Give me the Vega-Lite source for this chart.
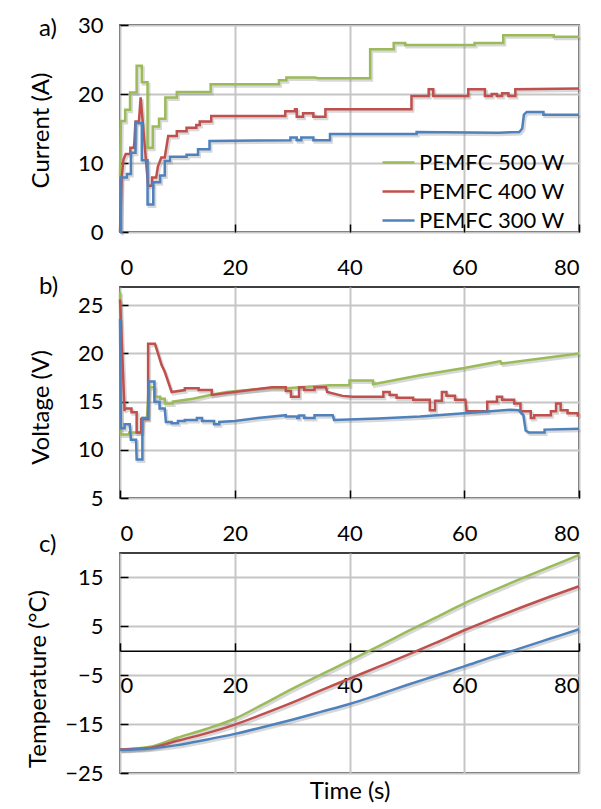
{
  "$schema": "https://vega.github.io/schema/vega-lite/v6.json",
  "padding": {"left": 25, "top": 13, "right": 0, "bottom": 0},
  "background": "white",
  "spacing": 55,
  "bounds": "flush",
  "config": {
    "font": "Lato",
    "view": {"stroke": "#000000", "strokeWidth": 1.5},
    "axis": {
      "labelFont": "Lato", "labelFontSize": 22, "labelColor": "#000000",
      "titleFont": "Lato", "titleFontSize": 24, "titleFontWeight": "normal", "titleColor": "#000000",
      "gridColor": "#c6c6c6", "gridWidth": 2, "domain": false,
      "tickColor": "#000000", "tickSize": -8, "tickWidth": 1.5, "labelPadding": 25
    },
    "axisX": {"labelPadding": 33},
    "title": {"font": "Lato", "fontSize": 24, "fontWeight": "normal", "color": "#000000", "anchor": "start", "frame": "group", "align": "center", "dx": -81, "offset": 0, "baseline": "alphabetic"}
  },
  "datasets": {
    "current": [
      {"s":"500","t":0,"v":8},{"s":"500","t":0.15,"v":16.1},{"s":"500","t":0.9,"v":16.1},{"s":"500","t":0.9,"v":17.7},{"s":"500","t":1.75,"v":17.7},{"s":"500","t":1.75,"v":20.2},{"s":"500","t":2.9,"v":20.2},{"s":"500","t":2.9,"v":24.1},{"s":"500","t":3.8,"v":24.1},{"s":"500","t":3.8,"v":21.7},{"s":"500","t":4.8,"v":21.7},{"s":"500","t":4.8,"v":12.2},{"s":"500","t":5.7,"v":12.2},{"s":"500","t":5.7,"v":15.3},{"s":"500","t":6.8,"v":15.3},{"s":"500","t":6.8,"v":16.4},{"s":"500","t":7.9,"v":16.4},{"s":"500","t":7.9,"v":19.5},{"s":"500","t":9.9,"v":19.5},{"s":"500","t":9.9,"v":20.3},{"s":"500","t":15.8,"v":20.3},{"s":"500","t":15.8,"v":21.4},{"s":"500","t":27.7,"v":21.4},{"s":"500","t":27.7,"v":22.0},{"s":"500","t":29,"v":22.0},{"s":"500","t":29,"v":22.4},{"s":"500","t":34,"v":22.4},{"s":"500","t":34.5,"v":22.3},{"s":"500","t":43.6,"v":22.3},{"s":"500","t":43.6,"v":26.5},{"s":"500","t":47.7,"v":26.5},{"s":"500","t":47.7,"v":27.4},{"s":"500","t":49.7,"v":27.4},{"s":"500","t":49.7,"v":27.1},{"s":"500","t":61.8,"v":27.1},{"s":"500","t":61.8,"v":27.4},{"s":"500","t":66.8,"v":27.4},{"s":"500","t":66.8,"v":28.5},{"s":"500","t":75.6,"v":28.5},{"s":"500","t":75.6,"v":28.3},{"s":"500","t":80,"v":28.3},
      {"s":"400","t":0,"v":0},{"s":"400","t":0.15,"v":4},{"s":"400","t":0.3,"v":8},{"s":"400","t":0.6,"v":10.5},{"s":"400","t":1.0,"v":11.3},{"s":"400","t":1.8,"v":11.3},{"s":"400","t":1.8,"v":12.2},{"s":"400","t":2.4,"v":12.2},{"s":"400","t":2.5,"v":13},{"s":"400","t":2.7,"v":16.0},{"s":"400","t":3.3,"v":16.0},{"s":"400","t":3.6,"v":19.5},{"s":"400","t":4.9,"v":6.7},{"s":"400","t":5.6,"v":6.7},{"s":"400","t":5.6,"v":7.9},{"s":"400","t":6.3,"v":7.9},{"s":"400","t":6.6,"v":9.5},{"s":"400","t":7.2,"v":10.8},{"s":"400","t":7.8,"v":10.8},{"s":"400","t":8.4,"v":13.9},{"s":"400","t":9.9,"v":13.9},{"s":"400","t":9.9,"v":14.6},{"s":"400","t":11.6,"v":14.6},{"s":"400","t":11.6,"v":15.1},{"s":"400","t":13.3,"v":15.1},{"s":"400","t":13.3,"v":15.5},{"s":"400","t":13.9,"v":15.5},{"s":"400","t":13.9,"v":16.0},{"s":"400","t":15.9,"v":16.0},{"s":"400","t":15.9,"v":16.8},{"s":"400","t":28.8,"v":16.8},{"s":"400","t":28.8,"v":17.5},{"s":"400","t":30.5,"v":17.5},{"s":"400","t":30.5,"v":17.8},{"s":"400","t":30.8,"v":17.8},{"s":"400","t":30.8,"v":16.7},{"s":"400","t":31.9,"v":16.7},{"s":"400","t":31.9,"v":17.2},{"s":"400","t":33.7,"v":17.2},{"s":"400","t":33.7,"v":16.7},{"s":"400","t":35.8,"v":16.7},{"s":"400","t":35.8,"v":17.8},{"s":"400","t":50.8,"v":17.8},{"s":"400","t":50.8,"v":19.7},{"s":"400","t":53.8,"v":19.7},{"s":"400","t":53.8,"v":20.7},{"s":"400","t":54.6,"v":20.7},{"s":"400","t":54.6,"v":19.7},{"s":"400","t":60.7,"v":19.7},{"s":"400","t":60.7,"v":20.7},{"s":"400","t":63.6,"v":20.7},{"s":"400","t":63.6,"v":19.7},{"s":"400","t":64.8,"v":19.7},{"s":"400","t":64.8,"v":20.0},{"s":"400","t":65.7,"v":20.0},{"s":"400","t":65.7,"v":19.7},{"s":"400","t":66.6,"v":19.7},{"s":"400","t":66.6,"v":20.1},{"s":"400","t":67.7,"v":20.1},{"s":"400","t":67.7,"v":19.7},{"s":"400","t":68.9,"v":19.7},{"s":"400","t":68.9,"v":20.7},{"s":"400","t":80,"v":20.8},
      {"s":"300","t":0,"v":0},{"s":"300","t":0.17,"v":0},{"s":"300","t":0.17,"v":7.9},{"s":"300","t":1.2,"v":7.9},{"s":"300","t":1.2,"v":8.4},{"s":"300","t":1.9,"v":8.4},{"s":"300","t":1.9,"v":11.5},{"s":"300","t":2.7,"v":11.5},{"s":"300","t":2.7,"v":15.8},{"s":"300","t":3.8,"v":15.8},{"s":"300","t":3.8,"v":10.4},{"s":"300","t":4.8,"v":10.4},{"s":"300","t":4.8,"v":4.0},{"s":"300","t":5.8,"v":4.0},{"s":"300","t":5.8,"v":7.2},{"s":"300","t":7.0,"v":7.2},{"s":"300","t":7.0,"v":8.2},{"s":"300","t":7.8,"v":8.2},{"s":"300","t":7.8,"v":10.3},{"s":"300","t":8.7,"v":10.3},{"s":"300","t":8.7,"v":10.9},{"s":"300","t":11.6,"v":10.9},{"s":"300","t":11.6,"v":11.2},{"s":"300","t":13.6,"v":11.2},{"s":"300","t":13.6,"v":12.0},{"s":"300","t":15.6,"v":12.0},{"s":"300","t":15.6,"v":13.2},{"s":"300","t":29.7,"v":13.3},{"s":"300","t":29.7,"v":13.7},{"s":"300","t":30.8,"v":13.7},{"s":"300","t":30.8,"v":13.3},{"s":"300","t":31.6,"v":13.3},{"s":"300","t":31.6,"v":13.7},{"s":"300","t":33.7,"v":13.7},{"s":"300","t":33.7,"v":13.3},{"s":"300","t":36.6,"v":13.3},{"s":"300","t":36.6,"v":14.2},{"s":"300","t":51.7,"v":14.2},{"s":"300","t":51.7,"v":14.5},{"s":"300","t":66,"v":14.4},{"s":"300","t":69.6,"v":14.5},{"s":"300","t":70.1,"v":15.0},{"s":"300","t":70.4,"v":17.0},{"s":"300","t":70.9,"v":17.4},{"s":"300","t":73.8,"v":17.4},{"s":"300","t":73.8,"v":17.0},{"s":"300","t":80,"v":17.0}
    ],
    "voltage": [
      {"s":"500","t":0,"v":26.4},{"s":"500","t":0.15,"v":11.6},{"s":"500","t":1.6,"v":11.6},{"s":"500","t":1.6,"v":11.8},{"s":"500","t":3.7,"v":11.8},{"s":"500","t":4.0,"v":13.3},{"s":"500","t":4.7,"v":13.3},{"s":"500","t":5.0,"v":16.5},{"s":"500","t":6.0,"v":16.5},{"s":"500","t":6.0,"v":15.5},{"s":"500","t":7.0,"v":15.5},{"s":"500","t":7.0,"v":15.3},{"s":"500","t":7.8,"v":15.3},{"s":"500","t":7.8,"v":14.8},{"s":"500","t":9.2,"v":14.8},{"s":"500","t":9.2,"v":15.0},{"s":"500","t":12.7,"v":15.3},{"s":"500","t":15.7,"v":15.7},{"s":"500","t":18.6,"v":16.0},{"s":"500","t":26,"v":16.4},{"s":"500","t":28.9,"v":16.4},{"s":"500","t":36.5,"v":16.7},{"s":"500","t":40,"v":16.7},{"s":"500","t":40,"v":17.2},{"s":"500","t":44.1,"v":17.2},{"s":"500","t":44.1,"v":16.8},{"s":"500","t":52.3,"v":17.75},{"s":"500","t":60,"v":18.5},{"s":"500","t":66.3,"v":19.2},{"s":"500","t":66.5,"v":18.95},{"s":"500","t":80,"v":20.0},
      {"s":"400","t":0,"v":25.6},{"s":"400","t":0.8,"v":14.0},{"s":"400","t":0.8,"v":14.3},{"s":"400","t":2.0,"v":14.3},{"s":"400","t":2.0,"v":13.9},{"s":"400","t":2.9,"v":13.9},{"s":"400","t":2.9,"v":11.8},{"s":"400","t":3.7,"v":11.8},{"s":"400","t":3.7,"v":13.2},{"s":"400","t":4.9,"v":13.2},{"s":"400","t":4.9,"v":21.0},{"s":"400","t":6.1,"v":21.0},{"s":"400","t":7.25,"v":18.8},{"s":"400","t":7.8,"v":18.1},{"s":"400","t":9.0,"v":16.0},{"s":"400","t":11.3,"v":16.2},{"s":"400","t":11.3,"v":16.4},{"s":"400","t":13.7,"v":16.4},{"s":"400","t":13.7,"v":16.2},{"s":"400","t":16.0,"v":16.2},{"s":"400","t":16.0,"v":15.7},{"s":"400","t":26.5,"v":16.5},{"s":"400","t":28.9,"v":16.5},{"s":"400","t":28.9,"v":16.1},{"s":"400","t":29.8,"v":16.1},{"s":"400","t":29.8,"v":15.5},{"s":"400","t":31.2,"v":15.5},{"s":"400","t":31.2,"v":16.5},{"s":"400","t":32.1,"v":16.5},{"s":"400","t":32.1,"v":16.2},{"s":"400","t":33.9,"v":16.2},{"s":"400","t":33.9,"v":16.5},{"s":"400","t":35.9,"v":16.5},{"s":"400","t":36.1,"v":16.0},{"s":"400","t":38.8,"v":15.6},{"s":"400","t":40.6,"v":15.5},{"s":"400","t":45.9,"v":15.5},{"s":"400","t":45.9,"v":16.0},{"s":"400","t":47,"v":16.0},{"s":"400","t":47,"v":15.7},{"s":"400","t":48.2,"v":15.7},{"s":"400","t":48.2,"v":15.4},{"s":"400","t":51.1,"v":15.4},{"s":"400","t":51.1,"v":15.2},{"s":"400","t":54,"v":15.2},{"s":"400","t":54,"v":14.1},{"s":"400","t":54.9,"v":14.1},{"s":"400","t":54.9,"v":15.1},{"s":"400","t":56.1,"v":15.1},{"s":"400","t":56.1,"v":16.0},{"s":"400","t":56.9,"v":16.0},{"s":"400","t":56.9,"v":15.6},{"s":"400","t":58.4,"v":15.6},{"s":"400","t":58.4,"v":15.2},{"s":"400","t":60.2,"v":15.2},{"s":"400","t":60.4,"v":14.0},{"s":"400","t":64,"v":14.0},{"s":"400","t":64,"v":15.0},{"s":"400","t":65.7,"v":15.0},{"s":"400","t":65.7,"v":15.5},{"s":"400","t":66.6,"v":15.5},{"s":"400","t":66.6,"v":15.2},{"s":"400","t":68.7,"v":15.2},{"s":"400","t":68.7,"v":14.8},{"s":"400","t":69.8,"v":14.8},{"s":"400","t":69.8,"v":14.0},{"s":"400","t":71.6,"v":14.0},{"s":"400","t":71.6,"v":13.3},{"s":"400","t":72.2,"v":13.3},{"s":"400","t":72.2,"v":13.6},{"s":"400","t":75.1,"v":13.6},{"s":"400","t":75.1,"v":14.0},{"s":"400","t":76,"v":14.0},{"s":"400","t":76,"v":14.8},{"s":"400","t":76.8,"v":14.8},{"s":"400","t":76.8,"v":14.1},{"s":"400","t":78,"v":14.1},{"s":"400","t":78,"v":13.8},{"s":"400","t":79.8,"v":13.8},{"s":"400","t":79.8,"v":13.55},{"s":"400","t":80,"v":13.55},
      {"s":"300","t":0,"v":23.6},{"s":"300","t":0.15,"v":12.25},{"s":"300","t":0.8,"v":12.25},{"s":"300","t":0.8,"v":12.65},{"s":"300","t":1.7,"v":12.65},{"s":"300","t":1.9,"v":11.05},{"s":"300","t":2.8,"v":11.05},{"s":"300","t":2.9,"v":9.0},{"s":"300","t":3.9,"v":9.0},{"s":"300","t":3.9,"v":13.3},{"s":"300","t":4.9,"v":13.3},{"s":"300","t":5.0,"v":17.1},{"s":"300","t":6.0,"v":17.1},{"s":"300","t":6.0,"v":15.0},{"s":"300","t":6.9,"v":15.0},{"s":"300","t":6.9,"v":14.3},{"s":"300","t":7.8,"v":14.3},{"s":"300","t":8.0,"v":12.9},{"s":"300","t":9.0,"v":12.9},{"s":"300","t":9.0,"v":12.75},{"s":"300","t":10.1,"v":12.75},{"s":"300","t":10.1,"v":13.0},{"s":"300","t":11.3,"v":13.0},{"s":"300","t":11.3,"v":13.1},{"s":"300","t":13.4,"v":13.1},{"s":"300","t":13.4,"v":13.3},{"s":"300","t":14.3,"v":13.3},{"s":"300","t":14.3,"v":13.0},{"s":"300","t":16.4,"v":13.0},{"s":"300","t":16.4,"v":12.65},{"s":"300","t":17.3,"v":12.65},{"s":"300","t":17.3,"v":12.9},{"s":"300","t":20,"v":13.0},{"s":"300","t":24,"v":13.3},{"s":"300","t":28.9,"v":13.6},{"s":"300","t":28.9,"v":13.45},{"s":"300","t":30.9,"v":13.45},{"s":"300","t":30.9,"v":13.3},{"s":"300","t":31.2,"v":13.3},{"s":"300","t":31.2,"v":13.55},{"s":"300","t":32.1,"v":13.55},{"s":"300","t":32.1,"v":13.3},{"s":"300","t":33.9,"v":13.3},{"s":"300","t":33.9,"v":13.6},{"s":"300","t":37.1,"v":13.6},{"s":"300","t":37.3,"v":13.1},{"s":"300","t":45,"v":13.25},{"s":"300","t":52.3,"v":13.45},{"s":"300","t":60,"v":13.8},{"s":"300","t":68,"v":14.15},{"s":"300","t":69.5,"v":14.1},{"s":"300","t":70.3,"v":13.6},{"s":"300","t":70.7,"v":12.0},{"s":"300","t":71.3,"v":11.8},{"s":"300","t":74.0,"v":11.8},{"s":"300","t":74.0,"v":12.1},{"s":"300","t":80,"v":12.2}
    ],
    "temperature": [
      {"s":"500","t":0,"v":-20.2},{"s":"500","t":5,"v":-19.7},{"s":"500","t":10,"v":-17.8},{"s":"500","t":15,"v":-16.0},{"s":"500","t":20,"v":-13.9},{"s":"500","t":25,"v":-10.9},{"s":"500","t":30,"v":-7.8},{"s":"500","t":35,"v":-4.9},{"s":"500","t":40,"v":-2.0},{"s":"500","t":45,"v":0.9},{"s":"500","t":50,"v":3.9},{"s":"500","t":55,"v":6.8},{"s":"500","t":60,"v":9.7},{"s":"500","t":65,"v":12.3},{"s":"500","t":70,"v":14.8},{"s":"500","t":75,"v":17.2},{"s":"500","t":80,"v":19.6},
      {"s":"400","t":0,"v":-20.2},{"s":"400","t":5,"v":-19.9},{"s":"400","t":10,"v":-18.4},{"s":"400","t":15,"v":-16.9},{"s":"400","t":20,"v":-15.1},{"s":"400","t":25,"v":-12.9},{"s":"400","t":30,"v":-10.6},{"s":"400","t":35,"v":-8.1},{"s":"400","t":40,"v":-5.7},{"s":"400","t":45,"v":-3.3},{"s":"400","t":50,"v":-0.9},{"s":"400","t":55,"v":1.6},{"s":"400","t":60,"v":4.2},{"s":"400","t":65,"v":6.6},{"s":"400","t":70,"v":8.9},{"s":"400","t":75,"v":11.1},{"s":"400","t":80,"v":13.2},
      {"s":"300","t":0,"v":-20.3},{"s":"300","t":5,"v":-20.0},{"s":"300","t":10,"v":-19.3},{"s":"300","t":15,"v":-18.2},{"s":"300","t":20,"v":-17.0},{"s":"300","t":25,"v":-15.6},{"s":"300","t":30,"v":-14.1},{"s":"300","t":35,"v":-12.5},{"s":"300","t":40,"v":-10.9},{"s":"300","t":45,"v":-9.0},{"s":"300","t":50,"v":-7.0},{"s":"300","t":55,"v":-5.1},{"s":"300","t":60,"v":-3.2},{"s":"300","t":65,"v":-1.2},{"s":"300","t":70,"v":0.6},{"s":"300","t":75,"v":2.5},{"s":"300","t":80,"v":4.4}
    ]
  },
  "resolve": {"scale": {"color": "independent"}, "legend": {"color": "independent"}},
  "vconcat": [
    {
      "width": 459, "height": 207,
      "title": {"text": "a)", "dy": 31},
      "data": {"name": "current"},
      "encoding": {
        "x": {"field": "t", "type": "quantitative", "scale": {"domain": [0, 80], "nice": false},
              "axis": {"values": [0, 20, 40, 60, 80], "title": null}},
        "y": {"field": "v", "type": "quantitative", "scale": {"domain": [0, 30], "nice": false},
              "axis": {"values": [0, 10, 20, 30], "title": "Current (A)", "titleX": -79, "titleY": 105, "titleBaseline": "middle", "titleAngle": -90}}
      },
      "layer": [
        {"mark": {"type": "line", "stroke": "#7f7f7f", "strokeWidth": 3, "opacity": 0.3, "xOffset": 1.5, "yOffset": 2},
         "encoding": {"detail": {"field": "s"}}},
        {"mark": {"type": "line", "strokeWidth": 2.5},
         "encoding": {
           "color": {"field": "s", "type": "nominal",
                     "scale": {"domain": ["500", "400", "300"], "range": ["#9BBB59", "#C0504D", "#4F81BD"]},
                     "legend": {"orient": "none", "legendX": 261, "legendY": 120, "title": null, "padding": 0,
                                "symbolType": "stroke", "symbolSize": 1024, "symbolStrokeWidth": 2.5,
                                "labelFont": "Lato", "labelFontSize": 22, "labelColor": "#000000", "labelOffset": 3, "rowPadding": -1,
                                "labelExpr": "'PEMFC ' + datum.label + ' W'"}}}}
      ]
    },
    {
      "width": 459, "height": 211,
      "title": {"text": "b)", "dy": 16},
      "data": {"name": "voltage"},
      "encoding": {
        "x": {"field": "t", "type": "quantitative", "scale": {"domain": [0, 80], "nice": false},
              "axis": {"values": [0, 20, 40, 60, 80], "title": null}},
        "y": {"field": "v", "type": "quantitative", "scale": {"domain": [5, 26.9], "nice": false},
              "axis": {"values": [5, 10, 15, 20, 25], "title": "Voltage (V)", "titleX": -79, "titleY": 120, "titleBaseline": "middle", "titleAngle": -90}}
      },
      "layer": [
        {"mark": {"type": "line", "stroke": "#7f7f7f", "strokeWidth": 3, "opacity": 0.3, "xOffset": 1.5, "yOffset": 2},
         "encoding": {"detail": {"field": "s"}}},
        {"mark": {"type": "line", "strokeWidth": 2.5},
         "encoding": {
           "color": {"field": "s", "type": "nominal",
                     "scale": {"domain": ["500", "400", "300"], "range": ["#9BBB59", "#C0504D", "#4F81BD"]},
                     "legend": null}}}
      ]
    },
    {
      "width": 459, "height": 220,
      "title": {"text": "c)", "dy": 11},
      "data": {"name": "temperature"},
      "encoding": {
        "x": {"field": "t", "type": "quantitative", "scale": {"domain": [0, 80], "nice": false},
              "axis": {"values": [0, 20, 40, 60, 80], "title": "Time (s)", "offset": -122.2, "domain": true, "domainColor": "#000000", "domainWidth": 1.5, "titleY": 141, "titleBaseline": "middle"}},
        "y": {"field": "v", "type": "quantitative", "scale": {"domain": [-25, 20], "nice": false},
              "axis": {"values": [-25, -15, -5, 5, 15], "title": "Temperature (°C)", "titleX": -82, "titleY": 125.5, "titleBaseline": "middle", "titleAngle": -90}}
      },
      "layer": [
        {"mark": {"type": "line", "stroke": "#7f7f7f", "strokeWidth": 3, "opacity": 0.3, "xOffset": 1.5, "yOffset": 2, "interpolate": "monotone"},
         "encoding": {"detail": {"field": "s"}}},
        {"mark": {"type": "line", "strokeWidth": 2.5, "interpolate": "monotone"},
         "encoding": {
           "color": {"field": "s", "type": "nominal",
                     "scale": {"domain": ["500", "400", "300"], "range": ["#9BBB59", "#C0504D", "#4F81BD"]},
                     "legend": null}}}
      ]
    }
  ]
}
